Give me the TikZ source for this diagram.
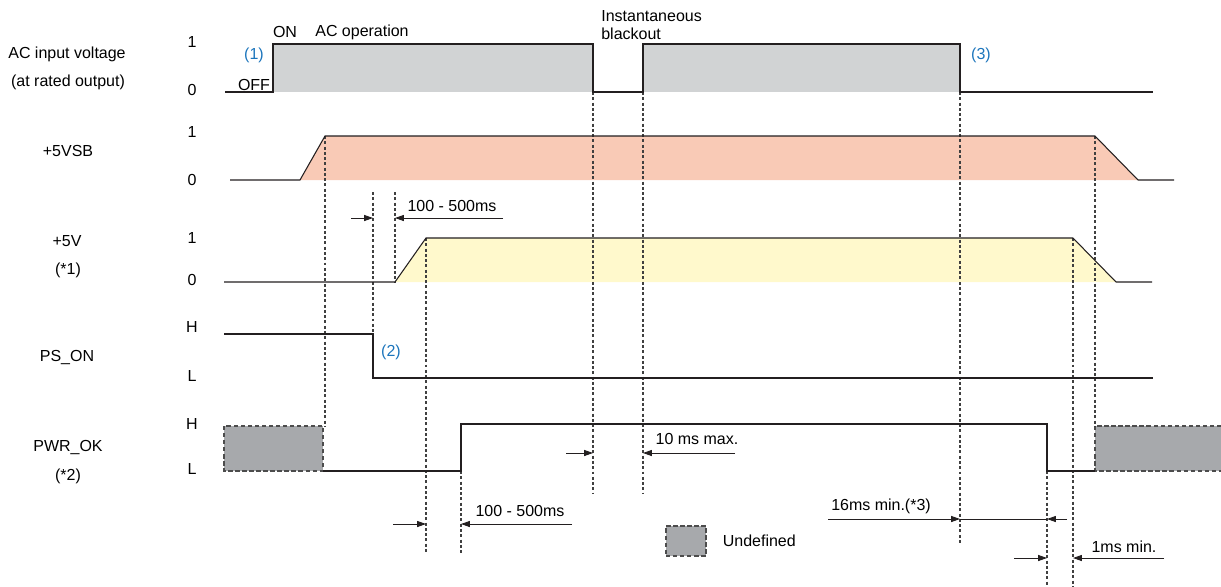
\documentclass[tikz,border=0pt]{standalone}
\usepackage{fontspec}
\setmainfont{Liberation Sans}
\usetikzlibrary{arrows.meta, positioning}
\definecolor{acgray}{RGB}{209,211,212}
\definecolor{vsbfill}{RGB}{249,202,182}
\definecolor{vfill}{RGB}{255,249,204}
\definecolor{undefgray}{RGB}{167,169,172}
\definecolor{noteblue}{RGB}{28,117,188}
\definecolor{sigline}{RGB}{35,31,32}

\begin{document}
\begin{tikzpicture}[x=0.02cm, y=-0.02cm,
			txt/.style={font=\fontsize{9.1}{10.5}\selectfont, inner sep=0pt},
			note/.style={txt, text=noteblue},
			sig/.style={line width=0.6pt, draw=sigline},
			guide/.style={line width=0.6pt, draw=black!75, dash pattern=on 1.7pt off 1.3pt},
			dim/.style={line width=0.5pt, draw=sigline, -{Triangle[length=5pt,width=3.4pt]}},
			undef/.style={fill=undefgray, draw=black!70, line width=0.6pt, dash pattern=on 2.5pt off 1.5pt}]
	\useasboundingbox (0,0) rectangle (1221,586);

	% signal names
	\node[txt] (acname) at (67,54) {AC input voltage};
	\node[txt] (acnote) at (68,82) {(at rated output)};
	\node[txt] (vsbname) at (68,151) {+5VSB};
	\node[txt] (vname) at (67,241) {+5V};
	\node[txt] (vnote) at (68,270) {(*1)};
	\node[txt] (psname) at (67,357) {PS\_ON};
	\node[txt] (pwrname) at (68,447) {PWR\_OK};
	\node[txt] (pwrnote) at (68,476) {(*2)};
	\foreach \lbl/\yy [count=\i] in {1/42, 0/90, 1/132, 0/180, 1/238, 0/280, H/327, L/376, H/424, L/469}
		\node[txt] (lvl\i) at (192,\yy) {\lbl};

	% filled areas
	\fill[acgray] (273,44) rectangle (593,92);
	\fill[acgray] (643,44) rectangle (960,92);
	\fill[vsbfill] (300,180) -- (325,136) -- (1095,136) -- (1138,180) -- cycle;
	\fill[vfill] (395,282) -- (426,238) -- (1073,238) -- (1116,282) -- cycle;
	\draw[undef] (224,426) rectangle (323,471);
	\draw[undef] (1095,426) rectangle (1222,471);

	% timing guides
	\foreach \xx/\ya/\yb in {325/136/426, 373/192/334, 395/192/282, 426/238/554, 461/471/554,
			593/92/494, 643/92/494, 960/92/544, 1047/471/586, 1073/238/586, 1095/136/426}
		\draw[guide] (\xx,\ya) -- (\xx,\yb);

	% waveforms
	\draw[sig] (225,92) -- (273,92) -- (273,44) -- (593,44) -- (593,92) -- (643,92)
		-- (643,44) -- (960,44) -- (960,92) -- (1153,92);
	\draw[sig] (230,180) -- (300,180) -- (325,136) -- (1095,136) -- (1138,180) -- (1174,180);
	\draw[sig] (224,282) -- (395,282) -- (426,238) -- (1073,238) -- (1116,282) -- (1152,282);
	\draw[sig] (224,334) -- (373,334) -- (373,378) -- (1153,378);
	\draw[sig] (323,471) -- (461,471) -- (461,424) -- (1047,424) -- (1047,471) -- (1095,471);

	% event labels
	\node[txt] (off) at (254,85) {OFF};
	\node[note] (ev1) at (254,55) {(1)};
	\node[txt] (on) at (285,32) {ON};
	\node[txt] (acop) at (362,32) {AC operation};
	\node[txt, anchor=west, align=left] (blackout) at (601,25) {Instantaneous\\blackout};
	\node[note] (ev3) at (981,55) {(3)};
	\node[note] (ev2) at (391,352) {(2)};

	% dimension arrows
	\coordinate (d1a) at (351,218); \coordinate (d1b) at (373,218);
	\coordinate (d1c) at (503,218); \coordinate (d1d) at (395,218);
	\coordinate (d2a) at (566,453); \coordinate (d2b) at (593,453);
	\coordinate (d2c) at (735,453); \coordinate (d2d) at (643,453);
	\coordinate (d3a) at (393,524); \coordinate (d3b) at (426,524);
	\coordinate (d3c) at (572,524); \coordinate (d3d) at (461,524);
	\coordinate (d4a) at (828,519); \coordinate (d4b) at (960,519);
	\coordinate (d4c) at (1067,519); \coordinate (d4d) at (1047,519);
	\coordinate (d5a) at (1014,558); \coordinate (d5b) at (1047,558);
	\coordinate (d5c) at (1164,558); \coordinate (d5d) at (1073,558);
	\foreach \d in {d1, d2, d3, d4, d5} {
		\draw[dim] (\d a) -- (\d b);
		\draw[dim] (\d c) -- (\d d);
	}
	\draw[line width=0.5pt, draw=sigline] (d4b) -- (d4d);
	\node[txt] (t1) at (452,206) {100 - 500ms};
	\node[txt] (t2) at (697,439) {10 ms max.};
	\node[txt] (t3) at (520,511) {100 - 500ms};
	\node[txt] (t4) at (881,506) {16ms min.(*3)};
	\node[txt] (t5) at (1124,547) {1ms min.};

	% legend
	\node[undef, minimum width=0.8cm, minimum height=0.6cm, inner sep=0pt] (legend) at (686,541) {};
	\node[txt, right=0.32cm of legend] (legendtxt) {Undefined};
\end{tikzpicture}
\end{document}
